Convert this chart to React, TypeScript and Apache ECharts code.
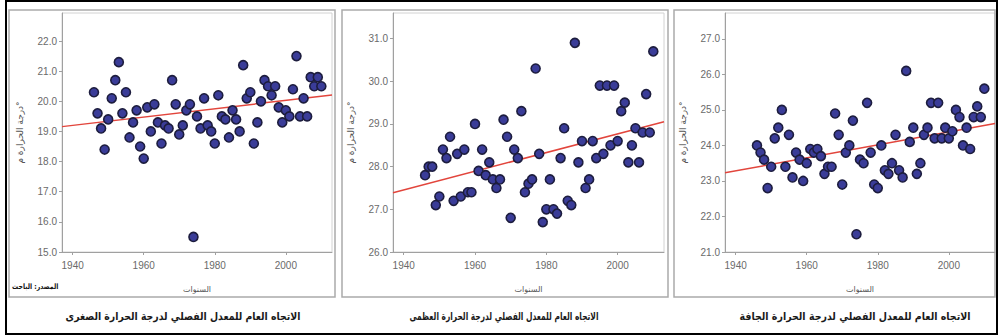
import { useEffect, useRef } from "react";
import * as echarts from "echarts";

const years = [
  1946, 1947, 1948, 1949, 1950, 1951, 1952, 1953, 1954, 1955, 1956, 1957, 1958,
  1959, 1960, 1961, 1962, 1963, 1964, 1965, 1966, 1967, 1968, 1969, 1970, 1971,
  1972, 1973, 1974, 1975, 1976, 1977, 1978, 1979, 1980, 1981, 1982, 1983, 1984,
  1985, 1986, 1987, 1988, 1989, 1990, 1991, 1992, 1993, 1994, 1995, 1996, 1997,
  1998, 1999, 2000, 2001, 2002, 2003, 2004, 2005, 2006, 2007, 2008, 2009, 2010,
];

const minTemp = [
  20.3, 19.6, 19.1, 18.4, 19.4, 20.1, 20.7, 21.3, 19.6, 20.3, 18.8, 19.3, 19.7,
  18.5, 18.1, 19.8, 19.0, 19.9, 19.3, 18.6, 19.2, 19.1, 20.7, 19.9, 18.9, 19.2,
  19.7, 19.9, 15.5, 19.5, 19.1, 20.1, 19.2, 19.0, 18.6, 20.2, 19.5, 19.4, 18.8,
  19.7, 19.4, 19.0, 21.2, 20.1, 20.3, 18.6, 19.3, 20.0, 20.7, 20.5, 20.2, 20.5,
  19.8, 19.3, 19.7, 19.5, 20.4, 21.5, 19.5, 20.1, 19.5, 20.8, 20.5, 20.8, 20.5,
];

const maxTemp = [
  27.8, 28.0, 28.0, 27.1, 27.3, 28.4, 28.2, 28.7, 27.2, 28.3, 27.3, 28.4, 27.4,
  27.4, 29.0, 27.9, 28.4, 27.8, 28.1, 27.7, 27.5, 27.7, 29.1, 28.7, 26.8, 28.4,
  28.2, 29.3, 27.4, 27.6, 27.7, 30.3, 28.3, 26.7, 27.0, 27.7, 27.0, 26.9, 28.2,
  28.9, 27.2, 27.1, 30.9, 28.1, 28.6, 27.5, 27.7, 28.6, 28.2, 29.9, 28.3, 29.9,
  28.5, 29.9, 28.6, 29.3, 29.5, 28.1, 28.5, 28.9, 28.1, 28.8, 29.7, 28.8, 30.7,
];

const dryTemp = [
  24.0, 23.8, 23.6, 22.8, 23.4, 24.2, 24.5, 25.0, 23.4, 24.3, 23.1, 23.8, 23.6,
  23.0, 23.5, 23.9, 23.8, 23.9, 23.7, 23.2, 23.4, 23.4, 24.9, 24.3, 22.9, 23.8,
  24.0, 24.7, 21.5, 23.6, 23.5, 25.2, 23.8, 22.9, 22.8, 24.0, 23.3, 23.2, 23.5,
  24.3, 23.3, 23.1, 26.1, 24.1, 24.5, 23.2, 23.5, 24.3, 24.5, 25.2, 24.2, 25.2,
  24.2, 24.5, 24.2, 24.4, 25.0, 24.8, 24.0, 24.5, 23.9, 24.8, 25.1, 24.8, 25.6,
];

const xRange = [1937, 2013];
const xTicks = [1940, 1960, 1980, 2000];
const minTicks = [15, 16, 17, 18, 19, 20, 21, 22];
const maxTicks = [26, 27, 28, 29, 30, 31];
const dryTicks = [21, 22, 23, 24, 25, 26, 27];
const yRanges = [
  [15, 22.93],
  [26, 31.6],
  [21, 27.73],
];
// trend line values at xRange[0] and xRange[1]
const trendMin = [19.16, 20.21];
const trendMax = [27.39, 29.05];
const trendDry = [23.23, 24.62];

const titles = [
  "الاتجاه العام للمعدل الفصلي لدرجة الحرارة الصغرى",
  "الاتجاه العام للمعدل الفصلي لدرجة الحرارة العظمى",
  "الاتجاه العام للمعدل الفصلي لدرجة الحرارة الجافة",
];
const yName = "درجة الحرارة م°";
const xName = "السنوات";
const sourceText = "المصدر: الباحث";

const AR_FONT = "DejaVu Sans";

export default function App() {
  const ref = useRef<HTMLDivElement>(null);

  useEffect(() => {
    document.body.style.margin = "0";
    if (!ref.current) return;
    const chart = echarts.init(ref.current, undefined, { renderer: "svg" });

    const series = [minTemp, maxTemp, dryTemp];
    const trends = [trendMin, trendMax, trendDry];
    const tickSets = [minTicks, maxTicks, dryTicks];
    const gridLefts = [62, 393, 725];
    const gridWidths = [270, 271, 270];

    const grids = gridLefts.map((l, i) => ({
      left: l,
      top: 13,
      width: gridWidths[i],
      height: 239,
      show: true,
      borderColor: "#d2d2d2",
      borderWidth: 1,
      backgroundColor: "#ffffff",
    }));

    const xAxes = gridLefts.map((_, i) => ({
      type: "value",
      gridIndex: i,
      min: xRange[0],
      max: xRange[1],
      name: xName,
      nameLocation: "middle",
      nameGap: 33,
      nameTextStyle: { fontFamily: AR_FONT, fontSize: 8, color: "#555" },
      axisLine: { show: true, lineStyle: { color: "#a0a0a0", width: 1 } },
      axisTick: {
        show: true,
        length: 3,
        customValues: xTicks,
        lineStyle: { color: "#a0a0a0" },
      },
      axisLabel: {
        customValues: xTicks,
        formatter: (v: number) => String(v),
        fontSize: 10,
        color: "#6a6a6a",
        fontFamily: "Liberation Sans",
        margin: 8,
      },
      splitLine: { show: false },
    }));

    const yAxes = gridLefts.map((_, i) => ({
      type: "value",
      gridIndex: i,
      min: yRanges[i][0],
      max: yRanges[i][1],
      name: yName,
      nameLocation: "middle",
      nameGap: 38,
      nameRotate: 90,
      nameTextStyle: { fontFamily: AR_FONT, fontSize: 9, color: "#555" },
      axisLine: { show: true, lineStyle: { color: "#a0a0a0", width: 1 } },
      axisTick: {
        show: true,
        length: 3,
        customValues: tickSets[i],
        lineStyle: { color: "#a0a0a0" },
      },
      axisLabel: {
        customValues: tickSets[i],
        formatter: (v: number) => v.toFixed(1),
        fontSize: 10,
        color: "#6a6a6a",
        fontFamily: "Liberation Sans",
        margin: 5,
      },
      splitLine: { show: false },
    }));

    const allSeries: any[] = [];
    series.forEach((vals, i) => {
      allSeries.push({
        type: "line",
        xAxisIndex: i,
        yAxisIndex: i,
        data: [
          [xRange[0], trends[i][0]],
          [xRange[1], trends[i][1]],
        ],
        showSymbol: false,
        symbol: "none",
        lineStyle: { color: "#e2453c", width: 1.5 },
        z: 1,
        silent: true,
      });
      allSeries.push({
        type: "scatter",
        xAxisIndex: i,
        yAxisIndex: i,
        data: years.map((y, k) => [y, vals[k]]),
        symbol: "circle",
        symbolSize: 9,
        itemStyle: {
          color: "#3a3c98",
          borderColor: "#1d1d3e",
          borderWidth: 1.6,
          opacity: 1,
        },
        z: 2,
      });
    });

    const boxStyle = { fill: "none", stroke: "#ababab", lineWidth: 1.5 };
    const titleXs = [183, 504, 855];
    const titleSizes = [11, 11, 11];
    const titleScales = [0.85, 0.68, 0.86];

    const graphic: any[] = [
      {
        type: "rect",
        shape: { x: 6, y: 1, width: 991, height: 333 },
        style: { fill: "none", stroke: "#000", lineWidth: 2 },
        silent: true,
      },
      { type: "rect", shape: { x: 9, y: 10, width: 326, height: 287 }, style: boxStyle, silent: true },
      { type: "rect", shape: { x: 342, y: 10, width: 326, height: 287 }, style: boxStyle, silent: true },
      { type: "rect", shape: { x: 674, y: 10, width: 321, height: 287 }, style: boxStyle, silent: true },
      {
        type: "text",
        x: 12,
        y: 287,
        scaleX: 0.82,
        style: {
          text: sourceText,
          fontFamily: AR_FONT,
          fontSize: 7.5,
          fontWeight: "bold",
          fill: "#111",
          verticalAlign: "middle",
        },
        silent: true,
      },
      ...titles.map((t, i) => ({
        type: "text",
        x: titleXs[i],
        y: 316,
        scaleX: titleScales[i],
        style: {
          text: t,
          fontFamily: AR_FONT,
          fontSize: titleSizes[i],
          fontWeight: "bold",
          fill: "#1a1a1a",
          align: "center",
          verticalAlign: "middle",
        },
        silent: true,
      })),
    ];

    chart.setOption({
      animation: false,
      backgroundColor: "#ffffff",
      grid: grids,
      xAxis: xAxes,
      yAxis: yAxes,
      series: allSeries,
      graphic,
    });

    return () => chart.dispose();
  }, []);

  return <div ref={ref} style={{ width: 998, height: 336 }} />;
}
